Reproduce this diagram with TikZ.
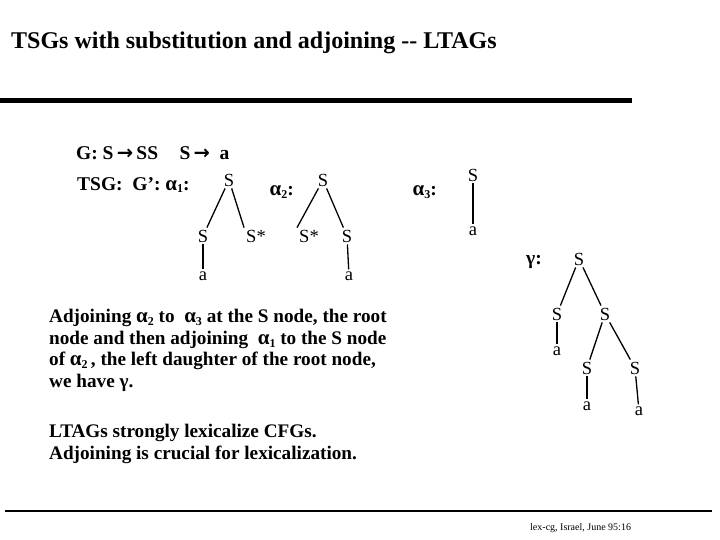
\documentclass[tikz,border=0pt]{standalone}
\usepackage{fontspec}
\setmainfont{Liberation Serif}
\newfontfamily\arrowfont{DejaVu Sans}
\newcommand{\ar}{{\arrowfont\bfseries →}}
\newcommand{\gs}[1]{\raisebox{-0.15em}{\fontsize{12}{12}\selectfont #1}}
\newcommand{\ga}{{\fontsize{21}{21}\selectfont α}}
\begin{document}
\begin{tikzpicture}[x=1pt,y=-1pt,
  tn/.style={font=\fontsize{18.5}{18.5}\selectfont, inner sep=2pt},
  br/.style={line width=1.3pt},
  lab/.style={font=\bfseries\fontsize{19.5}{19.5}\selectfont, inner sep=0pt},
  para/.style={font=\bfseries\fontsize{19.2}{21.7}\selectfont, inner sep=0pt, align=left, anchor=north west}]
\useasboundingbox (0,0) rectangle (720,540);
% title
\node[anchor=base west, inner sep=0pt, font=\bfseries\fontsize{24}{24}\selectfont] (title) at (11,49) {TSGs with substitution and adjoining -{}- LTAGs};
\draw[line width=5pt] (0,101) coordinate (b1) -- (632,101) coordinate (b2);
% grammar
\node[lab, anchor=west] (g) at (76,153) {G: S\,\ar\,SS\hspace{1.1em}S\,\ar\ \ a};
\node[lab, anchor=west] (tsg) at (77,185) {TSG:\ \ G’: \ga\gs{1}:};
% alpha1
\node[tn] (r1) at (229,180) {S};
\node[tn] (l1) at (203,236) {S};
\node[tn] (s1) at (256,236) {S*};
\node[tn] (a1) at (203,276) {a};
\draw[br] (r1) -- (l1); \draw[br] (r1) -- (s1.north west); \draw[br] (l1) -- (a1);
% alpha2
\node[lab, anchor=east] (al2) at (294,192) {\ga\gs{2}:};
\node[tn] (r2) at (323,180) {S};
\node[tn] (s2) at (309,236) {S*};
\node[tn] (l2) at (347,236) {S};
\node[tn] (a2) at (349,276) {a};
\draw[br] (r2) -- (s2.north west); \draw[br] (r2) -- (l2); \draw[br] (l2) -- (a2);
% alpha3
\node[lab, anchor=east] (al3) at (437,192) {\ga\gs{3}:};
\node[tn] (r3) at (473,175) {S};
\node[tn] (a3) at (473,231) {a};
\draw[br] (r3) -- (a3);
% gamma
\node[lab, anchor=west] (gl) at (526,262) {γ:};
\node[tn] (g0) at (579,259) {S};
\node[tn] (g1) at (557,314) {S};
\node[tn] (g2) at (605,314) {S};
\node[tn] (g3) at (557,351) {a};
\node[tn] (g4) at (587,368) {S};
\node[tn] (g5) at (635,368) {S};
\node[tn] (g6) at (587,406) {a};
\node[tn] (g7) at (639,411) {a};
\draw[br] (g0) -- (g1); \draw[br] (g0) -- (g2); \draw[br] (g1) -- (g3);
\draw[br] (g2) -- (g4); \draw[br] (g2) -- (g5);
\draw[br] (g4) -- (g6); \draw[br] (g5) -- (g7);
% paragraph
\node[para] (p1) at (49,309) {Adjoining \ga\gs{2} to\ \ \ga\gs{3}\ at the S node, the root\\
node and then adjoining\ \ \ga\gs{1} to the S node\\
of \ga\gs{2}\,, the left daughter of the root node,\\
we have γ.};
\node[para] (p2) at (49,424) {LTAGs strongly lexicalize CFGs.\\Adjoining is crucial for lexicalization.};
% bottom rule and footer
\draw[line width=1.3pt] (5,511) coordinate (f1) -- (712,511) coordinate (f2);
\node[anchor=base west, inner sep=0pt, font=\fontsize{10}{10}\selectfont] (foot) at (530,530) {lex-cg, Israel, June 95:16};
\end{tikzpicture}
\end{document}
